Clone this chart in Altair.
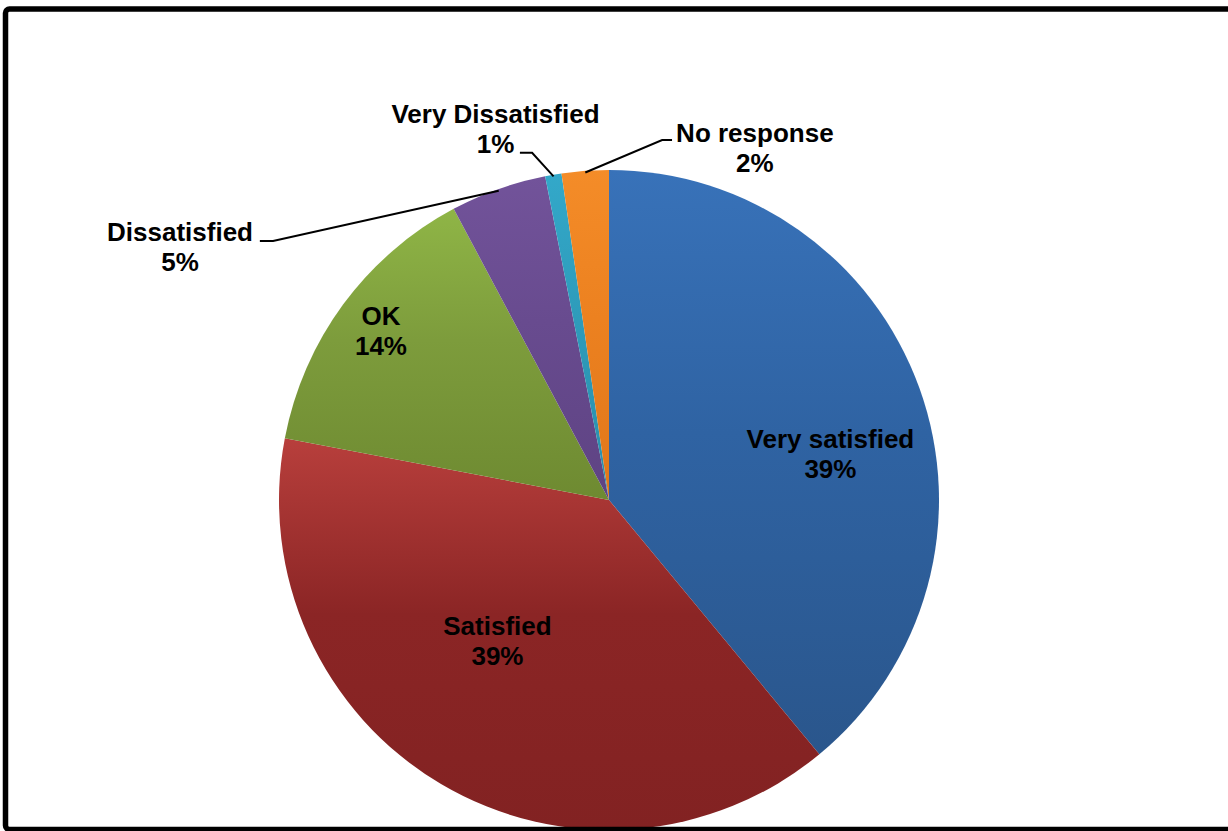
import altair as alt
import numpy as np
import pandas as pd

# ---------------- data ----------------
categories = ["Very satisfied", "Satisfied", "OK", "Dissatisfied",
              "Very Dissatisfied", "No response"]
values = [39.0, 39.0, 14.2, 4.7, 0.8, 2.3]

# ---------------- styles ----------------
top_colors = ["#3872b9", "#b83f3c", "#8fb546", "#72539a", "#33a8c9", "#f48c28"]
mid_colors = ["#2f63a3", "#8b2525", "#7d9c3c", "#684b8f", "#2e9bba", "#ec8120"]
bottom_colors = ["#2a568c", "#822222", "#6e8a31", "#5e4383", "#2a8fab", "#e0771a"]

W, H = 1228, 831
R_PX = 330                      # pie radius in pixels
CX_PX, CY_PX = 609, 500         # pie centre in pixels
# scales in "pie radius" units, centre at (0, 0), y up
X_DOMAIN = [-CX_PX / R_PX, (W - CX_PX) / R_PX]
Y_DOMAIN = [-(H - CY_PX) / R_PX, CY_PX / R_PX]

# label anchors (first-line baseline centre), radius units
label_pos = {
    "Very satisfied": (0.671, 0.158),
    "Satisfied": (-0.338, -0.409),
    "OK": (-0.691, 0.530),
    "Dissatisfied": (-1.300, 0.785),
    "Very Dissatisfied": (-0.344, 1.142),
    "No response": (0.442, 1.086),
}
# leader lines: start and elbow (radius units); end computed from slice
leader_pos = {
    "Dissatisfied": [(-1.058, 0.785), (-1.018, 0.785)],
    "Very Dissatisfied": [(-0.270, 1.052), (-0.233, 1.052)],
    "No response": [(0.191, 1.091), (0.161, 1.091)],
}

# ---------------- tables ----------------
total = float(sum(values))
ends = np.cumsum(values)
starts = ends - np.array(values)
arc_df = pd.DataFrame({
    "category": categories,
    "value": values,
    "start": starts,
    "end": ends,
    "cx": 0.0,
    "cy": 0.0,
})

lab_rows = []
for c, v in zip(categories, values):
    pct = int(round(v / total * 100))
    lx, ly = label_pos[c]
    lab_rows.append({"category": c, "text": f"{c}\n{pct}%", "x": lx, "y": ly})
lab_df = pd.DataFrame(lab_rows)

line_rows = []
for c, s, e in zip(categories, starts, ends):
    if c not in leader_pos:
        continue
    mid = (s + e) / 2 / total * 2 * np.pi
    pts = leader_pos[c] + [(0.995 * np.sin(mid), 0.995 * np.cos(mid))]
    for i, (px, py) in enumerate(pts):
        line_rows.append({"category": c, "i": i, "x": px, "y": py})
line_df = pd.DataFrame(line_rows)

xs = alt.Scale(domain=X_DOMAIN, nice=False, zero=False)
ys = alt.Scale(domain=Y_DOMAIN, nice=False, zero=False)
ts = alt.Scale(domain=[0, total])

layers = []
for c, t, m, b in zip(categories, top_colors, mid_colors, bottom_colors):
    grad = alt.Gradient(
        gradient="linear",
        stops=[alt.GradientStop(offset=0, color=t),
               alt.GradientStop(offset=0.45, color=m),
               alt.GradientStop(offset=1, color=b)],
        x1=0, x2=0, y1=0, y2=1,
    )
    layers.append(
        alt.Chart(arc_df)
        .transform_filter(alt.datum.category == c)
        .mark_arc(outerRadius=R_PX, color=grad)
        .encode(
            theta=alt.Theta("start:Q", scale=ts),
            theta2="end:Q",
            x=alt.X("cx:Q", scale=xs, axis=None),
            y=alt.Y("cy:Q", scale=ys, axis=None),
        )
    )

leaders = alt.Chart(line_df).mark_line(color="black", strokeWidth=2).encode(
    x=alt.X("x:Q", scale=xs, axis=None),
    y=alt.Y("y:Q", scale=ys, axis=None),
    detail="category:N",
    order="i:Q",
)

labels = alt.Chart(lab_df).mark_text(
    font="Liberation Sans", fontWeight="bold", fontSize=26,
    align="center", baseline="alphabetic", lineBreak="\n", lineHeight=30,
    color="black",
).encode(
    x=alt.X("x:Q", scale=xs, axis=None),
    y=alt.Y("y:Q", scale=ys, axis=None),
    text="text:N",
)

border = alt.Chart(pd.DataFrame({"a": [0]})).mark_rect(
    filled=False, stroke="black", strokeWidth=5.5, cornerRadius=4,
).encode(
    x=alt.value(5.5), x2=alt.value(W + 20),
    y=alt.value(9), y2=alt.value(829.5),
)

chart = alt.layer(*layers, leaders, labels, border).properties(
    width=W, height=H,
    autosize=alt.AutoSizeParams(type="none"),
    padding=0,
    background="white",
).configure_view(stroke=None)

chart.save("out.html", embed_options={"renderer": "svg", "actions": False})
